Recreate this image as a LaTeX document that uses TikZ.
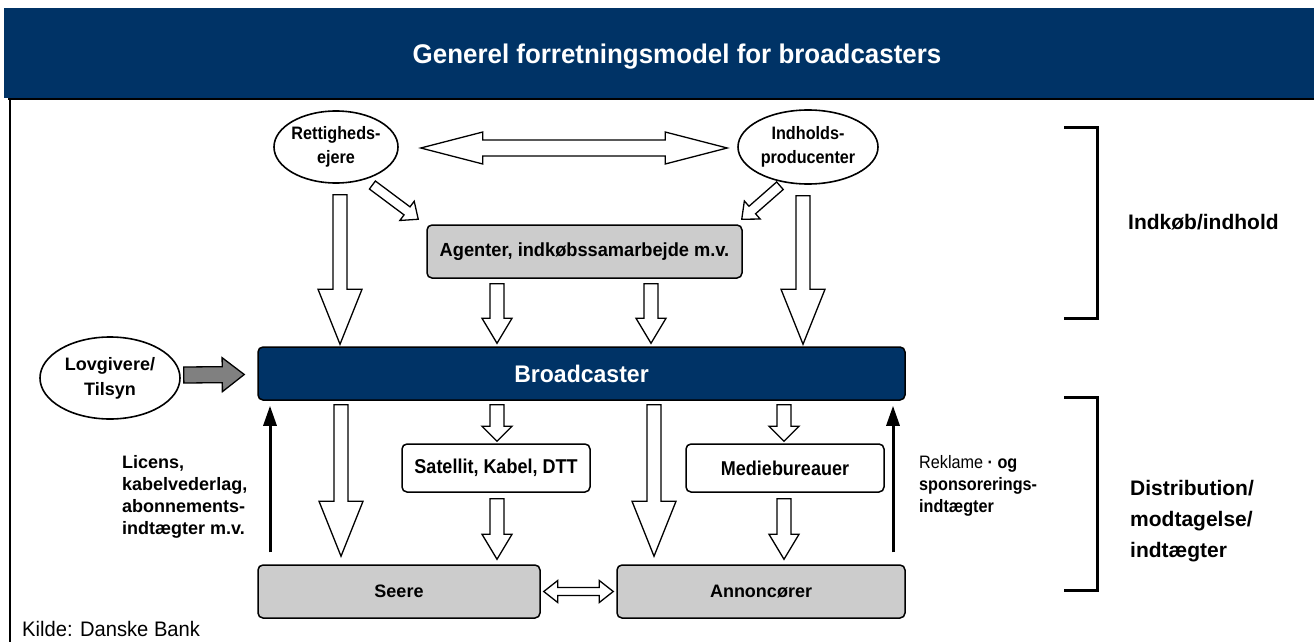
\documentclass[tikz,border=0pt]{standalone}
\usepackage{fontspec}
\setmainfont{Liberation Sans}
\newfontfamily\narrow{Liberation Sans}[FakeStretch=0.96]
\newfontfamily\full{Liberation Sans}
\newfontfamily\slim{Liberation Sans}[FakeStretch=0.90]
\usetikzlibrary{calc,arrows.meta,shapes.geometric}
\definecolor{navy}{RGB}{0,51,102}
\definecolor{boxgray}{RGB}{204,204,204}
\definecolor{arrowgray}{RGB}{128,128,128}

% single block arrow: [style]{from}{to}{shaft half width}{head half width}{head length}
\newcommand{\blockarrow}[6][]{%
  \coordinate (ba-h) at ($(#3)!#6!(#2)$);
  \draw[#1] ($(#2)!#4!90:(#3)$) -- ($(ba-h)!#4!90:(#3)$) -- ($(ba-h)!#5!90:(#3)$)
    -- (#3) -- ($(ba-h)!#5!-90:(#3)$) -- ($(ba-h)!#4!-90:(#3)$)
    -- ($(#2)!#4!-90:(#3)$) -- cycle;
}
% double-headed block arrow
\newcommand{\dblarrow}[6][]{%
  \coordinate (da-a) at ($(#2)!#6!(#3)$);
  \coordinate (da-b) at ($(#3)!#6!(#2)$);
  \draw[#1] (#2) -- ($(da-a)!#5!90:(#3)$) -- ($(da-a)!#4!90:(#3)$)
    -- ($(da-b)!#4!90:(#3)$) -- ($(da-b)!#5!90:(#3)$) -- (#3)
    -- ($(da-b)!#5!-90:(#3)$) -- ($(da-b)!#4!-90:(#3)$)
    -- ($(da-a)!#4!-90:(#3)$) -- ($(da-a)!#5!-90:(#3)$) -- cycle;
}

\tikzset{
  actor/.style={ellipse, draw, line width=1.6pt, fill=white, inner sep=0pt},
  actortext/.style={align=center, inner sep=0pt,
    font=\slim\bfseries\fontsize{18}{24}\selectfont},
  graybox/.style={draw, line width=1.5pt, fill=boxgray, rounded corners=5pt,
    font=\full\bfseries\fontsize{18}{22}\selectfont},
  whitebox/.style={draw, line width=1.5pt, fill=white, rounded corners=5pt,
    font=\slim\bfseries\fontsize{20}{22}\selectfont},
  hollow/.style={draw, line width=1.3pt, fill=white, line join=miter},
  grayarrow/.style={draw, line width=1.3pt, fill=arrowgray, line join=miter},
  money/.style={line width=3pt, -{Triangle[width=13pt,length=20pt]}},
  bracket/.style={line width=3pt},
  sidelabel/.style={anchor=west, align=left, inner sep=0pt,
    font=\full\bfseries\fontsize{21}{31}\selectfont},
  note/.style={anchor=west, align=left, inner sep=0pt,
    font=\full\bfseries\fontsize{18}{22}\selectfont},
}

\begin{document}
\begin{tikzpicture}[x=1pt,y=-1pt]
\useasboundingbox (0,0) rectangle (1314,642);

% header band and frame
\fill[navy] (4,8) rectangle (1314,98);
\draw[line width=2.5pt] (8,99) -- (1314,99);
\draw[line width=2pt] (10,99) -- (10,642);
\node[text=white, font=\narrow\bfseries\fontsize{27}{30}\selectfont] (title) at (677,57)
  {Generel forretningsmodel for broadcasters};

% sources of content
\node[actor, minimum width=124pt, minimum height=72pt] (rett) at (336,147) {};
\node[actortext] (rett-t) at (rett) {Rettigheds-\\ejere};
\node[actor, minimum width=140pt, minimum height=74pt] (indh) at (808,147) {};
\node[actortext] (indh-t) at (indh) {Indholds-\\producenter};
\node[actor, minimum width=140pt, minimum height=82pt] (lov) at (110,378) {};
\node[actortext, font=\full\bfseries\fontsize{18}{25}\selectfont] (lov-t) at (lov) {Lovgivere/\\Tilsyn};

% boxes
\node[graybox, minimum width=315pt, minimum height=53pt,
  font=\narrow\bfseries\fontsize{19}{22}\selectfont] (ag) at (584.5,251.5)
  {Agenter, indkøbssamarbejde m.v.};
\node[draw, line width=1.5pt, fill=navy, rounded corners=5pt, minimum width=647pt,
  minimum height=53pt, text=white, font=\narrow\bfseries\fontsize{24}{28}\selectfont]
  (bc) at (581.5,373.5) {Broadcaster};
\node[whitebox, minimum width=188pt, minimum height=48pt] (sat) at (496,468) {Satellit, Kabel, DTT};
\node[whitebox, minimum width=198pt, minimum height=48pt] (med) at (785,468) {Mediebureauer};
\node[graybox, minimum width=282pt, minimum height=53pt] (seere) at (399,591.5) {Seere};
\node[graybox, minimum width=288pt, minimum height=53pt] (ann) at (761,591.5) {Annoncører};

% column positions of the connectors
\coordinate (xa) at (340,0);
\coordinate (xb) at (497,0);
\coordinate (xc) at (651,0);
\coordinate (xd) at (803,0);
\coordinate (xe) at (341,0);
\coordinate (xf) at (654,0);
\coordinate (xg) at (784,0);
\coordinate (xl) at (270,0);
\coordinate (xr) at (893,0);

% rights holders <-> producers
\coordinate (d1) at ($(rett.east)+(22,1)$);
\coordinate (d2) at ($(indh.west)+(-10,1)$);
\dblarrow[hollow]{d1}{d2}{8pt}{16pt}{62pt}

% into the agents box
\coordinate (g1) at ($(rett.south east)+(-8,12)$);
\coordinate (g2) at ($(ag.north west)+(-8,-5)$);
\blockarrow[hollow]{g1}{g2}{5pt}{12pt}{14pt}
\coordinate (g3) at ($(indh.south west)+(22,12)$);
\coordinate (g4) at ($(ag.north east)+(-1,-5)$);
\blockarrow[hollow]{g3}{g4}{5pt}{12pt}{14pt}

% down to the broadcaster
\coordinate (a1) at ($(rett.south -| xa)+(0,11)$);
\coordinate (a2) at ($(bc.north -| xa)+(0,-2)$);
\blockarrow[hollow]{a1}{a2}{7pt}{22pt}{55pt}
\coordinate (a3) at ($(indh.south -| xd)+(0,11)$);
\coordinate (a4) at ($(bc.north -| xd)+(0,-2)$);
\blockarrow[hollow]{a3}{a4}{7pt}{22pt}{55pt}
\coordinate (a5) at ($(ag.south -| xb)+(0,5)$);
\coordinate (a6) at ($(bc.north -| xb)+(0,-3)$);
\blockarrow[hollow]{a5}{a6}{7pt}{15pt}{25pt}
\coordinate (a7) at ($(ag.south -| xc)+(0,5)$);
\coordinate (a8) at ($(bc.north -| xc)+(0,-3)$);
\blockarrow[hollow]{a7}{a8}{7pt}{15pt}{25pt}

% regulators
\coordinate (r1) at ($(lov.east)+(3,-3)$);
\coordinate (r2) at ($(bc.west)+(-13,1)$);
\blockarrow[grayarrow]{r1}{r2}{8pt}{17pt}{22pt}

% distribution
\coordinate (b1) at ($(bc.south -| xe)+(0,4)$);
\coordinate (b2) at ($(seere.north -| xe)+(0,-8)$);
\blockarrow[hollow]{b1}{b2}{7pt}{22pt}{55pt}
\coordinate (b3) at ($(bc.south -| xf)+(0,4)$);
\coordinate (b4) at ($(ann.north -| xf)+(0,-8)$);
\blockarrow[hollow]{b3}{b4}{7pt}{22pt}{55pt}
\coordinate (b5) at ($(bc.south -| xb)+(0,4)$);
\coordinate (b6) at ($(sat.north -| xb)+(0,-2)$);
\blockarrow[hollow]{b5}{b6}{7pt}{15pt}{15pt}
\coordinate (b7) at ($(bc.south -| xg)+(0,4)$);
\coordinate (b8) at ($(med.north -| xg)+(0,-2)$);
\blockarrow[hollow]{b7}{b8}{7pt}{15pt}{15pt}
\coordinate (b9) at ($(sat.south -| xb)+(0,6)$);
\coordinate (b10) at ($(seere.north -| xb)+(0,-5)$);
\blockarrow[hollow]{b9}{b10}{7pt}{15pt}{25pt}
\coordinate (b11) at ($(med.south -| xg)+(0,6)$);
\coordinate (b12) at ($(ann.north -| xg)+(0,-5)$);
\blockarrow[hollow]{b11}{b12}{7pt}{15pt}{25pt}

% viewers <-> advertisers
\coordinate (s1) at ($(seere.east)+(3,0)$);
\coordinate (s2) at ($(ann.west)+(-3,0)$);
\dblarrow[hollow]{s1}{s2}{4pt}{11pt}{14pt}

% revenue flows
\draw[money] ($(seere.north -| xl)+(0,-12)$) -- ($(bc.south -| xl)+(0,5)$);
\draw[money] ($(ann.north -| xr)+(0,-12)$) -- ($(bc.south -| xr)+(0,5)$);
\node[note] (lic) at (122,497) {Licens,\\kabelvederlag,\\abonnements-\\indtægter m.v.};
\node[note, font=\slim\bfseries\fontsize{18}{22}\selectfont] (rek) at (919,486)
  {{\mdseries Reklame} · og\\sponsorerings-\\indtægter};

% phase brackets
\draw[bracket] (1064,127) -- (1097,127) -- (1097,318) -- (1064,318);
\draw[bracket] (1064,397) -- (1097,397) -- (1097,590) -- (1064,590);
\node[sidelabel] (ph1) at (1128,222) {Indkøb/indhold};
\node[sidelabel] (ph2) at (1130,521) {Distribution/\\modtagelse/\\indtægter};

% source
\node[anchor=west, inner sep=0pt, font=\narrow\fontsize{21}{24}\selectfont] (src) at (22,629)
  {Kilde: Danske Bank};
\end{tikzpicture}
\end{document}
